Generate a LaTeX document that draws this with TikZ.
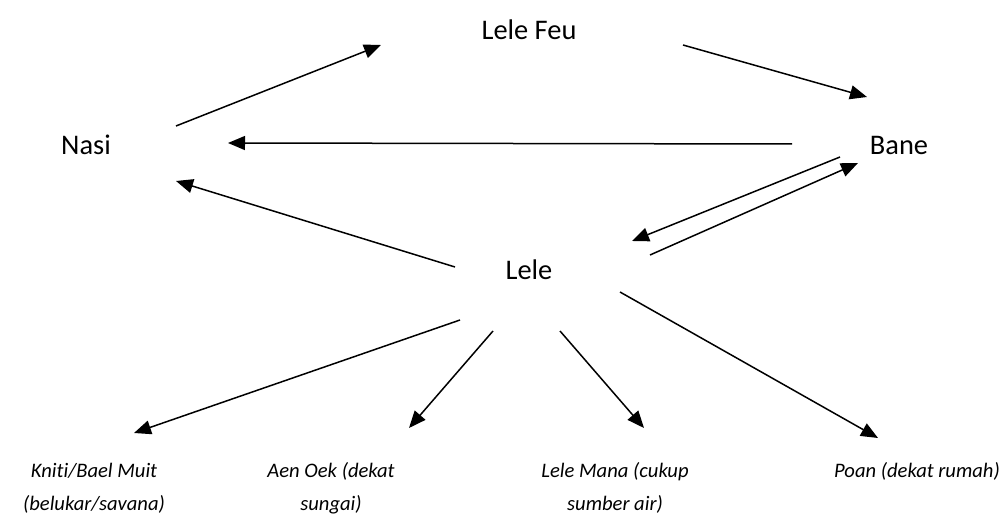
\documentclass[tikz,border=0pt]{standalone}
\usepackage{fontspec}
\setmainfont[Ligatures=NoCommon]{Carlito}
\usetikzlibrary{arrows.meta}

\tikzset{
    place/.style={font=\fontsize{14.2}{17}\selectfont, inner sep=0pt},
    habitat/.style={font=\fontsize{10.3}{16.5}\selectfont\itshape, align=center, inner sep=0pt},
    arr/.style={line width=0.75pt, -{Triangle[length=8.5pt,width=7pt]}}
}

\begin{document}
\begin{tikzpicture}[x=0.5pt, y=-0.5pt]
    \useasboundingbox (0,0) rectangle (1005,517);
    % main places
    \node[place] (feu) at (529,30) {Lele Feu};
    \node[place] (nasi) at (86,145) {Nasi};
    \node[place] (bane) at (899,145) {Bane};
    \node[place] (lele) at (529,270) {Lele};
    % kinds of lele
    \node[habitat] (kniti) at (94,488) {Kniti/Bael Muit\\(belukar/savana)};
    \node[habitat] (oek) at (331,488) {Aen Oek (dekat\\sungai)};
    \node[habitat] (mana) at (615,488) {Lele Mana (cukup\\sumber air)};
    \node[habitat, anchor=north] (poan) at (917,462) {Poan (dekat rumah)};
    % arrow ends
    \coordinate (a1) at (176,126);  \coordinate (b1) at (381,45);
    \coordinate (a2) at (683,45);   \coordinate (b2) at (867,97);
    \coordinate (a3) at (792,144);  \coordinate (b3) at (228,143);
    \coordinate (a4) at (840,157);  \coordinate (b4) at (632,241);
    \coordinate (a5) at (650,255);  \coordinate (b5) at (858,163);
    \coordinate (a6) at (455,267);  \coordinate (b6) at (176,181);
    \coordinate (a7) at (460,320);  \coordinate (b7) at (134,433);
    \coordinate (a8) at (493,331);  \coordinate (b8) at (409,428);
    \coordinate (a9) at (560,331);  \coordinate (b9) at (644,428);
    \coordinate (a10) at (620,292); \coordinate (b10) at (878,438);
    \foreach \i in {1,...,10}{
    \draw[arr] (a\i) -- (b\i);
    }
\end{tikzpicture}
\end{document}
